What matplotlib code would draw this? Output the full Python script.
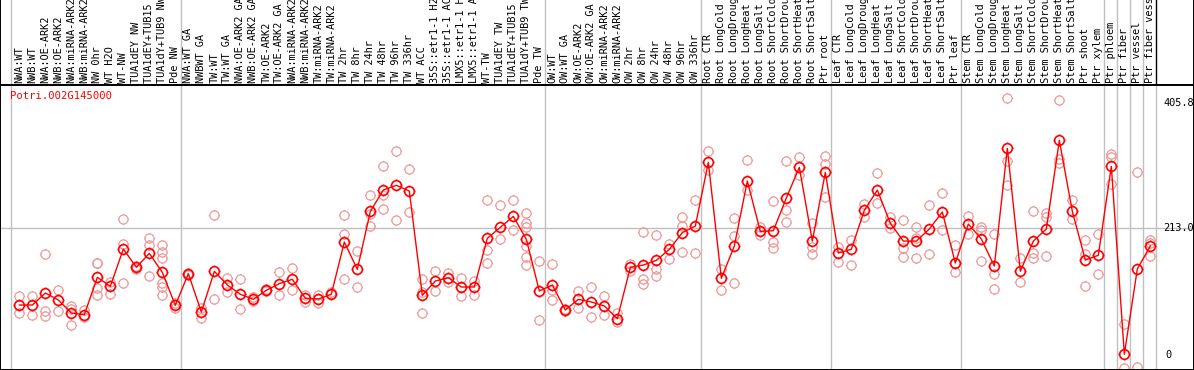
import numpy as np
import matplotlib
matplotlib.use('Agg')
import matplotlib.pyplot as plt
from matplotlib.path import Path

nan = np.nan

gene = 'Potri.002G145000'

labels = ['NWA:WT', 'NWB:WT', 'NWA:OE-ARK2', 'NWB:OE-ARK2', 'NWA:miRNA-ARK2', 'NWB:miRNA-ARK2',
          'NW 0hr', 'WT H2O', 'WT-NW', 'TUA1dEY NW', 'TUA1dEY+TUB15 NW', 'TUA1dY+TUB9 NW', 'Pde NW',
          'NWA:WT GA', 'NWBWT GA', 'TW:WT', 'TW:WT GA', 'NWA:OE-ARK2 GA', 'NWB:OE-ARK2 GA',
          'TW:OE-ARK2', 'TW:OE-ARK2 GA', 'NWA:miRNA-ARK2', 'NWB:miRNA-ARK2', 'TW:miRNA-ARK2',
          'TW:miRNA-ARK2', 'TW 2hr', 'TW 8hr', 'TW 24hr', 'TW 48hr', 'TW 96hr', 'TW 336hr', 'WT ACC',
          '35S::etr1-1 H2O', '35S::etr1-1 ACC', 'LMX5::etr1-1 H2O', 'LMX5::etr1-1 ACC', 'WT-TW',
          'TUA1dEY TW', 'TUA1dEY+TUB15 TW', 'TUA1dY+TUB9 TW', 'Pde TW',
          'OW:WT', 'OW:WT GA', 'OW:OE-ARK2', 'OW:OE-ARK2 GA', 'OW:miRNA-ARK2', 'OW:miRNA-ARK2',
          'OW 2hr', 'OW 8hr', 'OW 24hr', 'OW 48hr', 'OW 96hr', 'OW 336hr',
          'Root CTR', 'Root LongCold', 'Root LongDrought', 'Root LongHeat', 'Root LongSalt',
          'Root ShortCold', 'Root ShortDrought', 'Root ShortHeat', 'Root ShortSalt', 'Ptr root',
          'Leaf CTR', 'Leaf LongCold', 'Leaf LongDrought', 'Leaf LongHeat', 'Leaf LongSalt',
          'Leaf ShortCold', 'Leaf ShortDrought', 'Leaf ShortHeat', 'Leaf ShortSalt', 'Ptr leaf',
          'Stem CTR', 'Stem LongCold', 'Stem LongDrought', 'Stem LongHeat', 'Stem LongSalt',
          'Stem ShortCold', 'Stem ShortDrought', 'Stem ShortHeat', 'Stem ShortSalt', 'Ptr shoot',
          'Ptr xylem', 'Ptr phloem', 'Ptr fiber', 'Ptr vessel', 'Ptr fiber vessel']

# mean expression per sample
mean_vals = [99.2, 99.2, 117, 106.6, 87.3, 84.9, 140.2, 126.9, 182.3, 155.1,
             175.8, 147.7, 98.7, 145.7, 88.8, 149.2, 128.9, 115.1, 107.6, 121,
             130.9, 137.3, 109.1, 108.1, 115.1, 192.6, 152.1, 238, 269.7, 276.7,
             268.2, 113.6, 134.8, 139.7, 125.9, 125.9, 198.1, 214.4, 230.7, 196.6,
             120, 128.9, 91.8, 107.6, 103.7, 97.7, 78.9, 155.1, 158.5, 165.4,
             181.8, 206.5, 216.3, 310.8, 138.8, 186.7, 283.1, 208.4, 209.4, 257.9,
             303.4, 194, 295.9, 176.3, 181.8, 239.6, 269.7, 220.3, 194, 194,
             211.9, 237.1, 161.5, 219.3, 197.1, 157, 331.6, 149.2, 194, 211.9,
             343.4, 238, 165.9, 172.9, 304.9, 26.1, 152.6, 186.7]

# replicates
rep1 = [112.6, 112.6, 174.8, 121, 97.7, 91.8, 162, 132.8, 226.3, 157,
        198.6, 188.2, 101.7, 147, 94.3, 232.2, 138.8, 137.2, 111.6, 122.5,
        147.7, 154.1, 114.1, 114.6, 119, 232.2, 178.8, 261.8, 304.8, 327.5,
        300.8, 137.2, 149.6, 147, 138.8, 135.3, 254.9, 247, 254.9, 235.6,
        163.9, 160, 93, 120, 125.4, 112.6, 86.9, 160, 207, 203,
        190.2, 229.7, 254.9, 327.5, 152.6, 228.3, 313.7, 215.3, 253.4, 312.7,
        319.2, 220.3, 319.6, 185.7, 195.6, 249, 294.4, 229.2, 225.3, 214.4,
        247, 264.8, 188.2, 231.7, 215.3, 204, 405.6, 168.4, 238.6, 236.1,
        403.2, 254.9, 195.6, 204, 322.6, 70.6, 295.9, 195.6]
rep2 = [86.9, 83.9, 90.3, 90.3, 92.8, 81.9, 124.5, 115.6, 189.7, 153,
        187.7, 178.3, 94.3, 144, 80.4, 107.6, 118, 93.3, 105.1, 119.5,
        114.1, 121.5, 104.2, 102.7, 116, 205, 125.9, 234, 261.8, 225.3,
        236.6, 118, 119.5, 133.8, 112.1, 114.1, 180.3, 197.6, 210.4, 221.3,
        77, 121.5, 90.5, 95.3, 80.9, 83.9, 73.5, 149.6, 137.2, 152.1,
        167.4, 216.3, 175.8, 299.4, 121, 201.5, 269.7, 203, 192.6, 240,
        292, 185.7, 308.6, 162.4, 158, 230.2, 250, 213.9, 184.2, 198.1,
        174.3, 210.4, 147.7, 204.5, 210.4, 144.7, 313.2, 133.3, 175.8, 230.2,
        315.2, 226.3, 174.8, 144.7, 319.2, 5.3, 7.8, 191.6]
rep3 = [nan, nan, 82.4, nan, 69.1, nan, 113.6, nan, 131.9, nan,
        142.2, 168.4, nan, nan, nan, nan, nan, nan, nan, nan,
        nan, nan, nan, nan, nan, 137.2, nan, 216.3, 241.5, nan,
        nan, 86.9, nan, nan, nan, nan, 161.5, nan, nan, 214.4,
        nan, 106.6, nan, nan, nan, nan, nan, nan, 129.8, 142.2,
        nan, 177.3, nan, nan, nan, 131.9, nan, nan, 183.7, 222.3,
        nan, 174.8, 258.8, nan, nan, nan, nan, nan, 170.9, 168.4,
        nan, nan, nan, nan, 163.9, 122.5, 277.2, nan, 168.4, 171.9,
        310.3, nan, 127.4, nan, 278.7, nan, nan, 171.9]
extra_idx = [6, 11, 11, 11, 39, 39, 39]
extra_vals = [161, 131.3, 126.4, 113.6, 186.7, 170.9, 159]

# group separators sit after these sample indices
group_ends = [12, 40, 52, 62, 72, 83, 84, 85, 86, 87]
y_max = 405.8
y_mid = 213.0

W, H = 1194, 370
top_h = 85
fig = plt.figure(figsize=(W / 100, H / 100), dpi=100)
ax_lab = fig.add_axes([0, 1 - top_h / H, 1, top_h / H])
ax = fig.add_axes([0, 0, 1, 1 - top_h / H])

x = np.arange(len(labels))
xlim = (-19.33 / 13, (W - 19.33) / 13)
for a in (ax, ax_lab):
    a.set_xlim(*xlim)
    a.set_xticks([])
    a.set_yticks([])
    for s in a.spines.values():
        s.set_color('black')
        s.set_linewidth(1.4)
ax_lab.spines['top'].set_visible(False)
ax_lab.set_ylim(0, 1)
ax.set_ylim(2.8, 425.5)

mono = 'DejaVu Sans Mono'

# separators
seps = [-0.66] + [g + 0.4 for g in group_ends]
for i, s in enumerate(seps):
    ax.axvline(s, color='#c0c0c0', lw=1, zorder=0)
    ax_lab.axvline(s, color='black' if i == len(seps) - 1 else '#c0c0c0', lw=1, zorder=0)
ax.axhline(y_mid, color='#c0c0c0', lw=1, zorder=0)

# sample labels
for xi, lab in zip(x, labels):
    ax_lab.text(xi, 0.025, lab, rotation=90, ha='center', va='bottom', family=mono,
                fontsize=7.4, clip_on=True)

# circle marker with small ticks
circ = Path.unit_circle()
circ = Path(circ.vertices * 0.82, circ.codes)
ticks = Path([(0, 0.82), (0, 1), (0, -0.82), (0, -1), (0.82, 0), (1, 0), (-0.82, 0), (-1, 0)],
             [Path.MOVETO, Path.LINETO] * 4)
mk = Path.make_compound_path(circ, ticks)

rep_col = '#ee9a9a'
for r in (rep1, rep2, rep3):
    ax.plot(x, r, linestyle='none', marker=mk, markersize=8, markerfacecolor='none',
            markeredgecolor=rep_col, markeredgewidth=0.9, zorder=2)
ax.plot(extra_idx, extra_vals, linestyle='none', marker=mk, markersize=8, markerfacecolor='none',
        markeredgecolor=rep_col, markeredgewidth=0.9, zorder=2)
ax.plot(x, mean_vals, color='red', lw=1.0, marker=mk, markersize=8.5, markerfacecolor='none',
        markeredgecolor='red', markeredgewidth=1.2, zorder=3)

# gene name and y labels
ax.text(10 / W, 1 - 11 / (H - top_h), gene, transform=ax.transAxes, color='red', family=mono,
        fontsize=7.6, ha='left', va='center')
ax.text(1163 / W, y_max, '405.8', family=mono, fontsize=7.4, ha='left', va='top',
        transform=ax.get_yaxis_transform(), clip_on=True)
ax.text(1163 / W, y_mid, '213.0', family=mono, fontsize=7.4, ha='left', va='center',
        transform=ax.get_yaxis_transform(), clip_on=True)
ax.text(1165 / W, 0.035, '0', family=mono, fontsize=7.4, ha='left', va='bottom',
        transform=ax.transAxes)

fig.savefig('out.png', dpi=100)
